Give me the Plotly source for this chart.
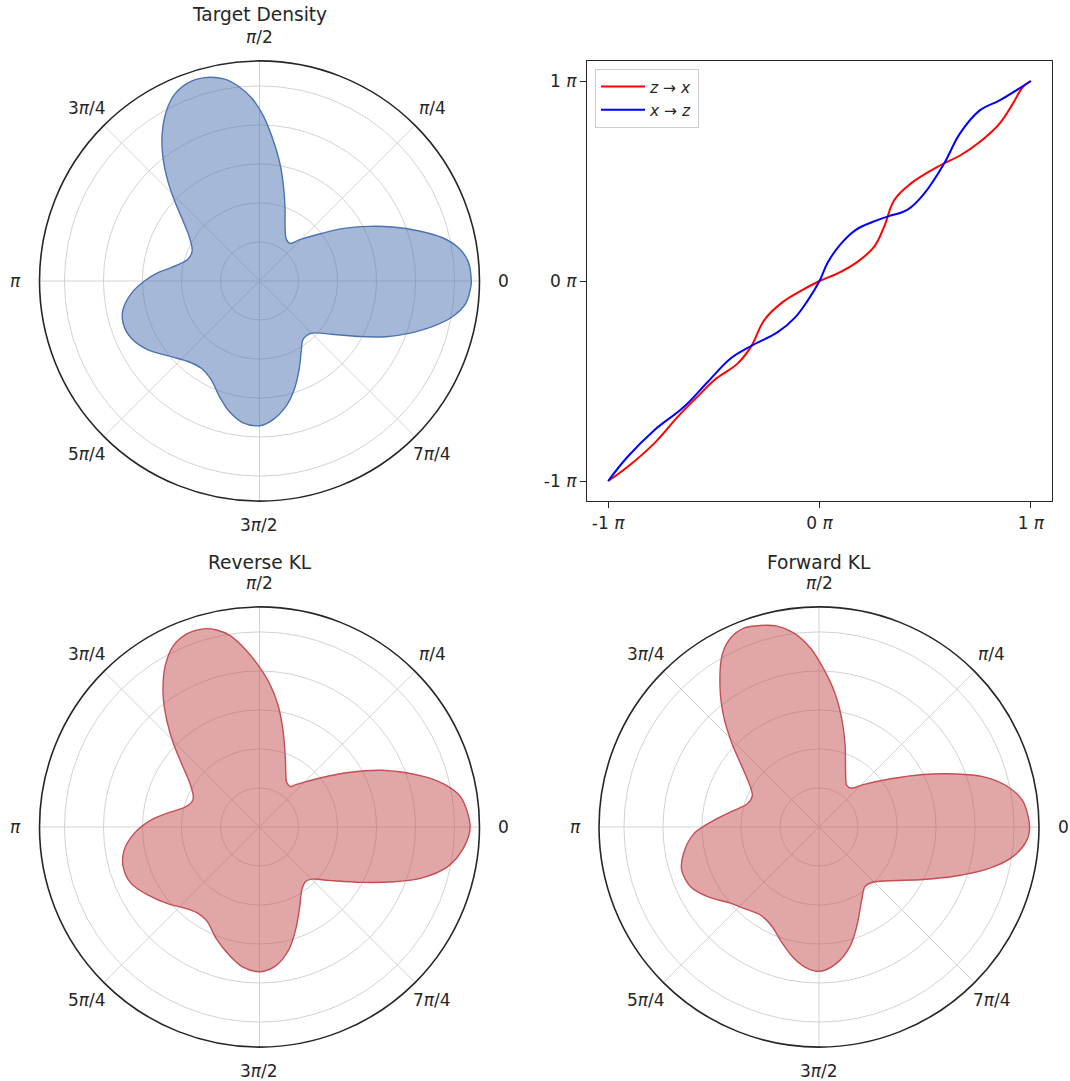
import math
import plotly.graph_objects as go

# ---------------- data ----------------
# Target density (theta in degrees, radius in grid units)
target_theta = [0, 5.45, 9.5, 13.3, 17.4, 22.1, 26.5, 32.3, 39.3, 46.1, 50.4, 57.2, 64.4, 70.8,
                75.5, 79.4, 83.1, 86.5, 89.1, 92.6, 96.3, 99.8, 105.1, 109.8, 114.4, 118.7,
                123.6, 128, 132.5, 136.7, 141.9, 148.2, 156, 163.1, 171.4, 175.3, 180, 185.5,
                192, 197.2, 204.1, 211.7, 220.6, 228.4, 236.3, 244, 251, 257.1, 263.4, 270,
                275.3, 281.8, 287.6, 293.9, 301.2, 306.7, 314.4, 323.8, 330.8, 336.2, 340.7,
                345.2, 349.5, 353.8, 358.5]
target_r = [5.43, 5.37, 5.17, 4.82, 4.29, 3.68, 3.14, 2.51, 1.86, 1.46, 1.25, 1.27, 1.52, 1.99,
            2.47, 2.96, 3.44, 3.92, 4.29, 4.71, 5.03, 5.25, 5.40, 5.40, 5.26, 4.97,
            4.51, 4.02, 3.48, 2.99, 2.49, 2.11, 1.89, 1.92, 2.29, 2.61, 2.95, 3.30,
            3.58, 3.66, 3.60, 3.36, 2.98, 2.76, 2.69, 2.82, 3.14, 3.44, 3.66, 3.71,
            3.58, 3.29, 2.93, 2.50, 2.07, 1.87, 1.88, 2.31, 2.92, 3.54, 4.06,
            4.58, 5.03, 5.32, 5.42]

# Reverse KL model density
rkl_theta = [0, 8.39, 13.07, 17.55, 24.93, 31.43, 38.29, 49.33, 52.32, 58.73, 63.43, 70.48,
             76.87, 81.54, 86.10, 90, 94.28, 98.82, 102.28, 105.82, 110.61, 115.30, 120.18,
             126.13, 131.19, 136.12, 141.04, 148.24, 155.77, 159.90, 165.07, 170.54, 176.53,
             183.01, 189.69, 196.20, 203.55, 211.09, 221.03, 226.81, 233.84, 240.69, 249.08,
             257.01, 263.29, 270, 276.79, 283.67, 289.54, 296.94, 303.96, 310.31, 315.36,
             322.35, 331.55, 337.96, 342.45, 348.11, 354.47]
rkl_r = [5.40, 5.22, 4.86, 4.35, 3.45, 2.68, 2.05, 1.43, 1.31, 1.34, 1.51, 1.97,
         2.61, 3.18, 3.70, 4.10, 4.54, 4.97, 5.17, 5.28, 5.29, 5.15, 4.80,
         4.19, 3.60, 3.05, 2.56, 2.09, 1.86, 1.85, 1.97, 2.32, 2.80,
         3.22, 3.52, 3.64, 3.60, 3.36, 3.03, 2.84, 2.72, 2.76, 3.08,
         3.39, 3.62, 3.71, 3.58, 3.22, 2.78, 2.28, 1.94, 1.83, 1.90,
         2.24, 2.98, 3.74, 4.35, 4.93, 5.27]

# Forward KL model density
fkl_theta = [0, 7.43, 12.51, 17.12, 21.15, 26.75, 34.18, 43.79, 49.91, 56.26, 63.29, 72.57,
             78.27, 83.25, 88.37, 92.81, 97.45, 101.81, 106.19, 110.68, 115.06, 119.28,
             125.40, 130.96, 136.29, 142.13, 149.84, 154.75, 162.08, 168.97, 176.38, 183.04,
             191.08, 197.41, 204.97, 211.97, 220.80, 227.25, 236.33, 244.75, 252.33, 259.04,
             265.09, 270.46, 277.43, 284.56, 290.72, 300.29, 307.58, 314.56, 322.81, 333.25,
             340.30, 346.32, 351.23, 355.87]
fkl_r = [5.40, 5.26, 4.91, 4.39, 3.77, 2.99, 2.19, 1.57, 1.30, 1.28, 1.52, 2.23,
         2.85, 3.46, 4.06, 4.60, 5.02, 5.26, 5.38, 5.45, 5.35, 5.07,
         4.38, 3.72, 3.08, 2.49, 2.03, 1.89, 1.93, 2.22, 2.70, 3.21,
         3.54, 3.69, 3.63, 3.37, 2.99, 2.84, 2.71, 2.82, 3.12, 3.42,
         3.63, 3.70, 3.52, 3.16, 2.73, 2.17, 1.93, 1.98, 2.28, 2.99,
         3.73, 4.49, 5.02, 5.32]

# Flow maps (in units of pi)
zx_in = [-1, -0.909, -0.783, -0.670, -0.563, -0.497, -0.387, -0.324, -0.261, -0.182, -0.103, 0,
         0.086, 0.181, 0.259, 0.306, 0.354, 0.433, 0.574, 0.669, 0.758, 0.852, 0.915, 0.962, 1]
zx_out = [-1, -0.930, -0.813, -0.678, -0.563, -0.495, -0.412, -0.328, -0.195, -0.112, -0.058, 0,
          0.038, 0.097, 0.172, 0.272, 0.405, 0.488, 0.580, 0.630, 0.695, 0.787, 0.887, 0.970, 1]
xz_in = [-1, -0.909, -0.783, -0.642, -0.529, -0.418, -0.324, -0.198, -0.115, -0.056, 0,
         0.039, 0.097, 0.172, 0.250, 0.322, 0.417, 0.496, 0.590, 0.664, 0.758, 0.852, 1]
xz_out = [-1, -0.880, -0.747, -0.630, -0.505, -0.385, -0.325, -0.256, -0.182, -0.098, 0,
          0.092, 0.181, 0.256, 0.295, 0.322, 0.357, 0.438, 0.588, 0.737, 0.853, 0.903, 1]

angle_ticks = [0, 45, 90, 135, 180, 225, 270, 315]
angle_labels = ["0", "<i>π</i>/4", "<i>π</i>/2", "3<i>π</i>/4", "<i>π</i>",
                "5<i>π</i>/4", "3<i>π</i>/2", "7<i>π</i>/4"]
line_ticks = [-1, 0, 1]
line_labels = ["-1 <i>π</i>", "0 <i>π</i>", "1 <i>π</i>"]
titles = ["Target Density", "Reverse KL", "Forward KL"]

# ---------------- styling ----------------
W, H = 1070, 1081
TXT = "#262626"
GRID = "#d3d3d3"
FONT = "DejaVu Sans"
BLUE = "#4C72B0"
RED = "#C44E52"
TICK_SIZE = 17
TITLE_SIZE = 18.6
R_PX = 220          # polar circle radius in px
LABEL_PX = 244      # angular tick label distance from centre in px

# polar centres (px, from top-left)
centres = [(259.5, 281), (259.5, 827), (819, 827)]


def px_x(a, b):
    return [a / W, b / W]


def px_y(top, bottom):
    return [1 - bottom / H, 1 - top / H]


fig = go.Figure()


def closed(th, r):
    return list(th) + [th[0] + 360], list(r) + [r[0]]


polar_specs = [
    ("polar", target_theta, target_r, BLUE, "rgba(76,114,176,0.5)"),
    ("polar2", rkl_theta, rkl_r, RED, "rgba(196,78,82,0.5)"),
    ("polar3", fkl_theta, fkl_r, RED, "rgba(196,78,82,0.5)"),
]
for name, th, r, lc, fc in polar_specs:
    tt, rr = closed(th, r)
    fig.add_trace(go.Scatterpolar(
        theta=tt, r=rr, mode="lines", fill="toself", fillcolor=fc,
        line=dict(color=lc, width=1.4, shape="spline", smoothing=0.9),
        subplot=name, showlegend=False, hoverinfo="skip"))

fig.add_trace(go.Scatter(x=zx_in, y=zx_out, mode="lines",
                         line=dict(color="red", width=2, shape="spline", smoothing=1.1),
                         name="<i>z</i> → <i>x</i>", xaxis="x", yaxis="y"))
fig.add_trace(go.Scatter(x=xz_in, y=xz_out, mode="lines",
                         line=dict(color="blue", width=2, shape="spline", smoothing=1.1),
                         name="<i>x</i> → <i>z</i>", xaxis="x", yaxis="y"))


def polar_layout(cx, cy):
    return dict(
        domain=dict(x=px_x(cx - R_PX, cx + R_PX), y=px_y(cy - R_PX, cy + R_PX)),
        bgcolor="white",
        angularaxis=dict(
            rotation=0, direction="counterclockwise",
            tickmode="array", tickvals=angle_ticks, ticktext=angle_labels,
            showticklabels=False,
            showline=True, linecolor=TXT, linewidth=1.6,
            gridcolor=GRID, gridwidth=1.2, ticks=""),
        radialaxis=dict(
            range=[0, 5.64], tickmode="array", tickvals=[1, 2, 3, 4, 5],
            showticklabels=False, showline=False, ticks="",
            gridcolor=GRID, gridwidth=1.2),
    )


fig.update_layout(
    width=W, height=H,
    margin=dict(l=0, r=0, t=0, b=0),
    paper_bgcolor="white", plot_bgcolor="white",
    font=dict(family=FONT, color=TXT),
    polar=polar_layout(*centres[0]),
    polar2=polar_layout(*centres[1]),
    polar3=polar_layout(*centres[2]),
    xaxis=dict(domain=px_x(587, 1052), range=[-1.1, 1.1],
               tickmode="array", tickvals=line_ticks, ticktext=line_labels,
               showline=True, mirror=True, linecolor=TXT, linewidth=1.4,
               ticks="outside", ticklen=6, tickwidth=1.2, tickcolor=TXT,
               showgrid=False, zeroline=False,
               tickfont=dict(family=FONT, size=TICK_SIZE, color=TXT), anchor="y"),
    yaxis=dict(domain=px_y(61, 501), range=[-1.1, 1.1],
               tickmode="array", tickvals=line_ticks, ticktext=line_labels,
               showline=True, mirror=True, linecolor=TXT, linewidth=1.4,
               ticks="outside", ticklen=6, tickwidth=1.2, tickcolor=TXT,
               showgrid=False, zeroline=False,
               tickfont=dict(family=FONT, size=TICK_SIZE, color=TXT), anchor="x"),
    legend=dict(x=595 / W, y=1 - 69 / H, xanchor="left", yanchor="top",
                bgcolor="rgba(255,255,255,0.8)", bordercolor="#cccccc", borderwidth=1,
                font=dict(family=FONT, size=15.5, color=TXT), itemwidth=44,
                tracegroupgap=0),
)

# angular tick labels (placed like matplotlib: centred just outside the circle)
for cx, cy in centres:
    for ang, lab in zip(angle_ticks, angle_labels):
        a = math.radians(ang)
        lx = cx + LABEL_PX * math.cos(a)
        ly = cy - LABEL_PX * math.sin(a)
        fig.add_annotation(text=lab, x=lx / W, y=1 - ly / H, xref="paper", yref="paper",
                           showarrow=False, xanchor="center", yanchor="middle",
                           font=dict(family=FONT, size=TICK_SIZE, color=TXT))

title_pos = [(259.5, 15), (259.5, 562), (819, 562)]
for t, (x, y) in zip(titles, title_pos):
    fig.add_annotation(text=t, x=x / W, y=1 - y / H, xref="paper", yref="paper",
                       showarrow=False, xanchor="center", yanchor="middle",
                       font=dict(family=FONT, size=TITLE_SIZE, color=TXT))

fig.write_html("out.html")
